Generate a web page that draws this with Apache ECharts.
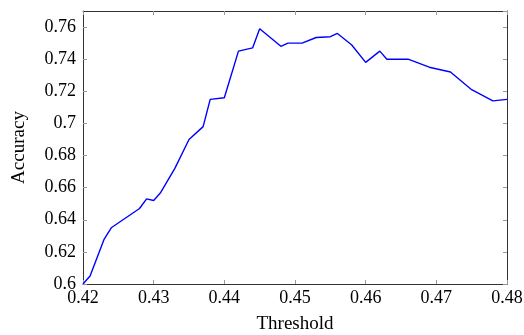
<!DOCTYPE html>
<html>
<head>
<meta charset="utf-8">
<script src="https://cdn.jsdelivr.net/npm/echarts@6/dist/echarts.min.js"></script>
<style>
  html, body { margin: 0; padding: 0; background: #fff; }
  #chart { width: 524px; height: 335px; }
</style>
</head>
<body>
<div id="chart"></div>
<script>
// values
const thresholds = [0.42, 0.421, 0.423, 0.424, 0.428, 0.429, 0.430, 0.431, 0.433, 0.435,
  0.437, 0.438, 0.440, 0.442, 0.444, 0.445, 0.448, 0.449, 0.451, 0.453,
  0.455, 0.456, 0.458, 0.460, 0.462, 0.463, 0.466, 0.469, 0.472, 0.475,
  0.478, 0.48];
const accuracy = [0.600, 0.605, 0.628, 0.635, 0.647, 0.653, 0.652, 0.657, 0.672, 0.690,
  0.698, 0.715, 0.716, 0.745, 0.747, 0.759, 0.748, 0.750, 0.750, 0.7535,
  0.754, 0.756, 0.749, 0.738, 0.745, 0.740, 0.740, 0.735, 0.732, 0.721,
  0.714, 0.715];

const chart = echarts.init(document.getElementById("chart"));
const font = "'Liberation Serif', 'DejaVu Serif', serif";
const frame = { show: true, onZero: false, lineStyle: { color: "#333", width: 1 } };
const ticks = { show: true, inside: true, length: 4, lineStyle: { color: "#999" } };

const option = {
  animation: false,
  grid: { left: 83, right: 17, top: 11, bottom: 51, outerBoundsMode: "none" },
  xAxis: [
    {
      type: "value",
      min: 0.42,
      max: 0.48,
      interval: 0.01,
      name: "Threshold",
      nameLocation: "middle",
      nameGap: 31,
      nameTextStyle: { fontFamily: font, fontSize: 19, color: "#000" },
      axisLine: frame,
      axisTick: ticks,
      splitLine: { show: false },
      axisLabel: { fontFamily: font, fontSize: 18, color: "#000", margin: 5 },
    },
    {
      type: "value",
      position: "top",
      min: 0.42,
      max: 0.48,
      interval: 0.01,
      axisLine: frame,
      axisTick: ticks,
      splitLine: { show: false },
      axisLabel: { show: false },
    },
  ],
  yAxis: [
    {
      type: "value",
      min: 0.6,
      max: 0.77,
      interval: 0.02,
      name: "Accuracy",
      nameLocation: "middle",
      nameGap: 54,
      nameTextStyle: { fontFamily: font, fontSize: 19, color: "#000" },
      axisLine: frame,
      axisTick: ticks,
      splitLine: { show: false },
      axisLabel: {
        fontFamily: font, fontSize: 18, color: "#000", margin: 7,
        showMaxLabel: false,
      },
    },
    {
      type: "value",
      position: "right",
      min: 0.6,
      max: 0.77,
      interval: 0.02,
      axisLine: frame,
      axisTick: ticks,
      splitLine: { show: false },
      axisLabel: { show: false },
    },
  ],
  series: [
    {
      type: "line",
      data: thresholds.map((t, i) => [t, accuracy[i]]),
      showSymbol: false,
      lineStyle: { color: "#0000ff", width: 1.4 },
      clip: true,
    },
  ],
};

chart.setOption(option);
</script>
</body>
</html>
